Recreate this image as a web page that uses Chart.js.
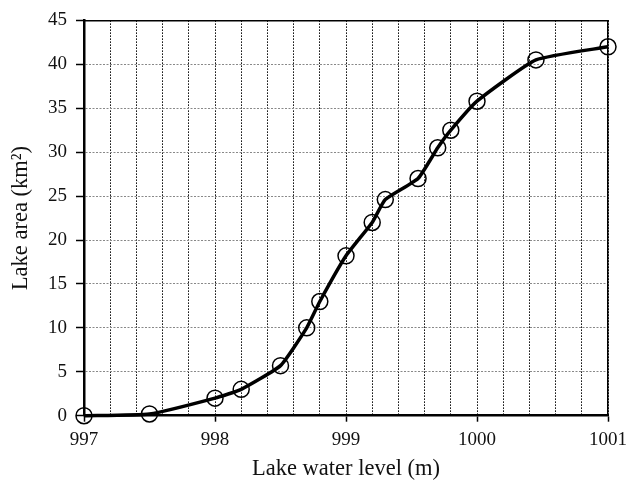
<!DOCTYPE html>
<html>
<head>
<meta charset="utf-8">
<script src="https://cdn.jsdelivr.net/npm/chart.js@4.4.1/dist/chart.umd.min.js"></script>
<style>
  html, body { margin: 0; padding: 0; background: #fff; }
  #wrap { width: 627px; height: 481px; }
</style>
</head>
<body>
<div id="wrap"><canvas id="areaChart"></canvas></div>
<script>
/* data */
const levels = [997, 997.5, 998, 998.2, 998.5, 998.7, 998.8, 999, 999.2, 999.3, 999.55, 999.7, 999.8, 1000, 1000.45, 1001];
const areas = [0, 0.2, 2, 3, 5.7, 10, 13, 18.2, 22, 24.6, 27, 30.5, 32.5, 35.8, 40.5, 42];
const xLabels = ['997', '998', '999', '1000', '1001'];
const yTicks = [0, 5, 10, 15, 20, 25, 30, 35, 40, 45];

const serif = 'Liberation Serif';

function isWhole(v) {
  return Math.abs(v - Math.round(v)) < 1e-6;
}

const points = levels.map((x, i) => ({ x: x, y: areas[i] }));

const config = {
  type: 'line',
  data: {
    datasets: [{
      label: 'Lake area',
      data: points,
      borderColor: '#000',
      borderWidth: 3.5,
      tension: 0.15,
      pointStyle: 'circle',
      pointRadius: 8,
      pointBorderWidth: 1.5,
      pointBorderColor: '#000',
      pointBackgroundColor: 'rgba(0,0,0,0)',
      clip: false
    }]
  },
  options: {
    responsive: true,
    maintainAspectRatio: false,
    animation: false,
    layout: {
      padding: { left: 4, right: 19, top: 20, bottom: 1 }
    },
    plugins: {
      legend: { display: false },
      tooltip: { enabled: false }
    },
    scales: {
      x: {
        type: 'linear',
        position: 'bottom',
        min: 997,
        max: 1001,
        afterFit: function(axis) {
          // let the last label hang into the right margin
          axis.paddingRight = 0;
        },
        ticks: {
          stepSize: 0.2,
          autoSkip: false,
          maxRotation: 0,
          padding: 6.5,
          color: '#111',
          font: { family: serif, size: 19 },
          callback: function(value) {
            return isWhole(value) && xLabels.includes(String(Math.round(value))) ? String(Math.round(value)) : '';
          }
        },
        grid: {
          color: '#000',
          lineWidth: 1,
          tickLength: 6,
          tickWidth: 1.5,
          tickColor: function(ctx) {
            return ctx.tick && isWhole(ctx.tick.value) ? '#000' : 'rgba(0,0,0,0)';
          }
        },
        border: { color: '#000', width: 2.5, dash: [1.5, 1.5] },
        title: {
          display: true,
          text: 'Lake water level (m)',
          color: '#111',
          font: { family: serif, size: 22.5, lineHeight: 1 },
          padding: { top: 0, bottom: 0 }
        }
      },
      y: {
        type: 'linear',
        position: 'left',
        min: 0,
        max: 45,
        afterBuildTicks: function(axis) {
          axis.ticks = yTicks.map(v => ({ value: v }));
        },
        ticks: {
          padding: 9,
          color: '#111',
          font: { family: serif, size: 19 }
        },
        grid: {
          color: '#888',
          lineWidth: 1,
          tickLength: 8,
          tickWidth: 1.5,
          tickColor: '#000'
        },
        border: { color: '#000', width: 2.5, dash: [2, 1.5] },
        title: {
          display: true,
          text: 'Lake area (km²)',
          color: '#111',
          font: { family: serif, size: 22.5 },
          padding: { top: 4, bottom: 4 }
        }
      },
      xTop: {
        type: 'linear',
        position: 'top',
        min: 997,
        max: 1001,
        ticks: { display: false },
        grid: { drawOnChartArea: false, drawTicks: false },
        border: { color: '#000', width: 1.5 }
      },
      yRight: {
        type: 'linear',
        position: 'right',
        min: 0,
        max: 45,
        ticks: { display: false },
        grid: { drawOnChartArea: false, drawTicks: false },
        border: { color: '#000', width: 1.5 }
      }
    }
  }
};

const areaChart = new Chart(document.getElementById('areaChart'), config);
</script>
</body>
</html>
